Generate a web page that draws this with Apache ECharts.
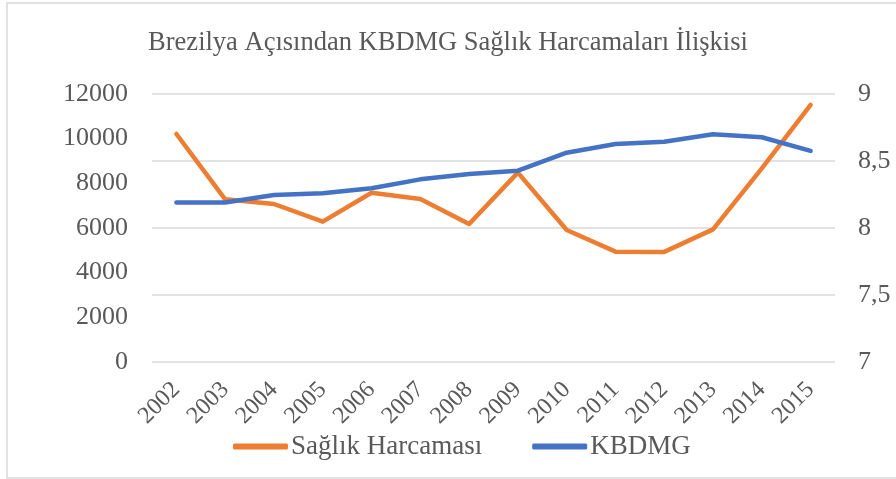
<!DOCTYPE html>
<html>
<head>
<meta charset="utf-8">
<script src="https://cdn.jsdelivr.net/npm/echarts@6/dist/echarts.min.js"></script>
<style>
  html, body { margin: 0; padding: 0; background: #fff; }
  #chart { width: 896px; height: 479px; }
</style>
</head>
<body>
<div id="chart"></div>
<script>
const years = ["2002", "2003", "2004", "2005", "2006", "2007", "2008", "2009", "2010", "2011", "2012", "2013", "2014", "2015"];
const saglikHarcamasi = [10210, 7285, 7075, 6285, 7580, 7300, 6180, 8480, 5910, 4940, 4930, 5940, 8670, 11510];
const kbdmg = [8.19, 8.19, 8.246, 8.259, 8.296, 8.363, 8.403, 8.428, 8.562, 8.627, 8.644, 8.699, 8.677, 8.575];

const font = "'Liberation Serif', 'Times New Roman', serif";
const textColor = "#595959";

const chart = echarts.init(document.getElementById("chart"));

chart.setOption({
  backgroundColor: "#fff",
  animation: false,
  title: {
    text: "Brezilya Açısından KBDMG Sağlık Harcamaları İlişkisi",
    left: "center",
    top: 25,
    textStyle: { fontFamily: font, fontSize: 26.5, fontWeight: "normal", color: textColor },
  },
  graphic: [
    {
      type: "rect",
      shape: { x: 7, y: 3, width: 900, height: 475 },
      style: { fill: "none", stroke: "#d9d9d9", lineWidth: 1.5 },
      silent: true,
      z: -1,
    },
  ],
  grid: { left: 152, right: 61, top: 94, bottom: 117 },
  legend: {
    bottom: 14,
    left: 228,
    itemWidth: 55,
    itemHeight: 6,
    itemGap: 50,
    icon: "roundRect",
    textStyle: { fontFamily: font, fontSize: 27, color: textColor, padding: [0, 0, 0, -2] },
    data: ["Sağlık Harcaması", "KBDMG"],
  },
  xAxis: {
    type: "category",
    data: years,
    boundaryGap: true,
    axisLine: { show: false },
    axisTick: { show: false },
    axisLabel: {
      rotate: 45,
      margin: 24,
      fontFamily: font,
      fontSize: 24,
      color: textColor,
      interval: 0,
    },
  },
  yAxis: [
    {
      type: "value",
      min: 0,
      max: 12000,
      interval: 2000,
      position: "left",
      axisLine: { show: false },
      axisTick: { show: false },
      splitLine: { show: false },
      axisLabel: {
        margin: 24,
        fontFamily: font,
        fontSize: 26,
        color: textColor,
        formatter: (v) => String(v),
      },
    },
    {
      type: "value",
      min: 7,
      max: 9,
      interval: 0.5,
      position: "right",
      axisLine: { show: false },
      axisTick: { show: false },
      splitLine: { show: true, lineStyle: { color: "#d9d9d9", width: 1.5 } },
      axisLabel: {
        margin: 23,
        fontFamily: font,
        fontSize: 26,
        color: textColor,
        formatter: (v) => String(v).replace(".", ","),
      },
    },
  ],
  series: [
    {
      name: "Sağlık Harcaması",
      type: "line",
      yAxisIndex: 0,
      data: saglikHarcamasi,
      symbol: "none",
      lineStyle: { color: "#ED7D31", width: 4.5, cap: "round", join: "round" },
      itemStyle: { color: "#ED7D31" },
    },
    {
      name: "KBDMG",
      type: "line",
      yAxisIndex: 1,
      data: kbdmg,
      symbol: "none",
      lineStyle: { color: "#4472C4", width: 4.5, cap: "round", join: "round" },
      itemStyle: { color: "#4472C4" },
    },
  ],
});
</script>
</body>
</html>
